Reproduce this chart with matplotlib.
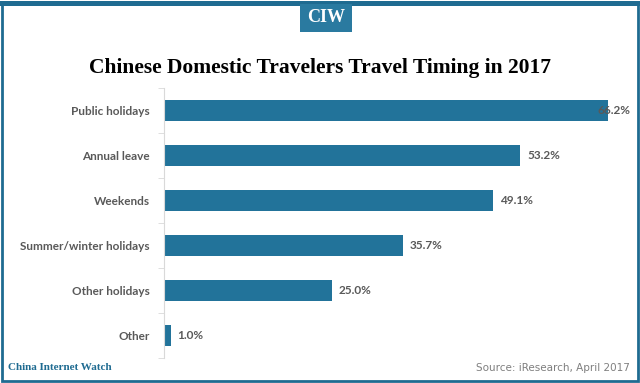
import matplotlib.pyplot as plt
from matplotlib.patches import Rectangle

categories = ["Public holidays", "Annual leave", "Weekends",
              "Summer/winter holidays", "Other holidays", "Other"]
values = [66.2, 53.2, 49.1, 35.7, 25.0, 1.0]

blue = "#22739a"
frame_blue = "#1f6b91"
label_gray = "#595959"

fig = plt.figure(figsize=(6.4, 3.83), dpi=100)
fig.patch.set_facecolor("white")

# plot area: left edge at x=164px, bars scaled ~6.7px per unit
ax = fig.add_axes([164 / 640, 1 - 358 / 383, (640 - 164) / 640, 270 / 383])
y = list(range(len(categories)))
ax.barh(y, values, height=0.45, color=blue)
ax.set_ylim(len(categories) - 0.5, -0.5)
ax.set_xlim(0, 476 / 6.7)
ax.set_yticks(y)
ax.set_yticklabels(categories, fontsize=8.5, fontweight="bold", color=label_gray,
                   family="Lato")
ax.tick_params(axis="y", length=0, pad=10)
ax.set_yticks([i + 0.5 for i in range(-1, len(categories))], minor=True)
ax.tick_params(axis="y", which="minor", length=4, color="#d9d9d9")
ax.set_xticks([])
for s in ["top", "right", "bottom"]:
    ax.spines[s].set_visible(False)
ax.spines["left"].set_color("#d9d9d9")

for i, v in enumerate(values):
    ax.text(v + 1.0 if v < 60 else v - 1.5, i, f"{v:.1f}%",
            va="center", ha="left",
            fontsize=8.5, fontweight="bold", color=label_gray, family="Lato")

# title
fig.text(0.5, 1 - 68 / 383, "Chinese Domestic Travelers Travel Timing in 2017",
         ha="center", va="center", fontsize=15.5, fontweight="bold",
         family="Liberation Serif", color="black")

# frame
fig.add_artist(Rectangle((2 / 640, 2 / 383), 636 / 640, 377 / 383, transform=fig.transFigure,
                         fill=False, edgecolor=frame_blue, linewidth=2))
fig.add_artist(Rectangle((0, 1 - 6 / 383), 1, 5 / 383, transform=fig.transFigure,
                         color=frame_blue, linewidth=0))

# CIW badge
fig.add_artist(Rectangle((300 / 640, 1 - 32 / 383), 52 / 640, 28 / 383,
                         transform=fig.transFigure, color="#2a7aa0", linewidth=0))
fig.text(326 / 640, 1 - 18 / 383, "CIW", ha="center", va="center", color="white",
         fontsize=13, fontweight="bold", family="Liberation Serif")

# footer
fig.text(8 / 640, 1 - 368 / 383, "China Internet Watch", ha="left", va="center",
         fontsize=8, fontweight="bold", family="Liberation Serif", color=frame_blue)
fig.text(630 / 640, 1 - 368 / 383, "Source: iResearch, April 2017", ha="right",
         va="center", fontsize=7.5, color="#7f7f7f", family="DejaVu Sans")

fig.savefig("out.png", dpi=100)
